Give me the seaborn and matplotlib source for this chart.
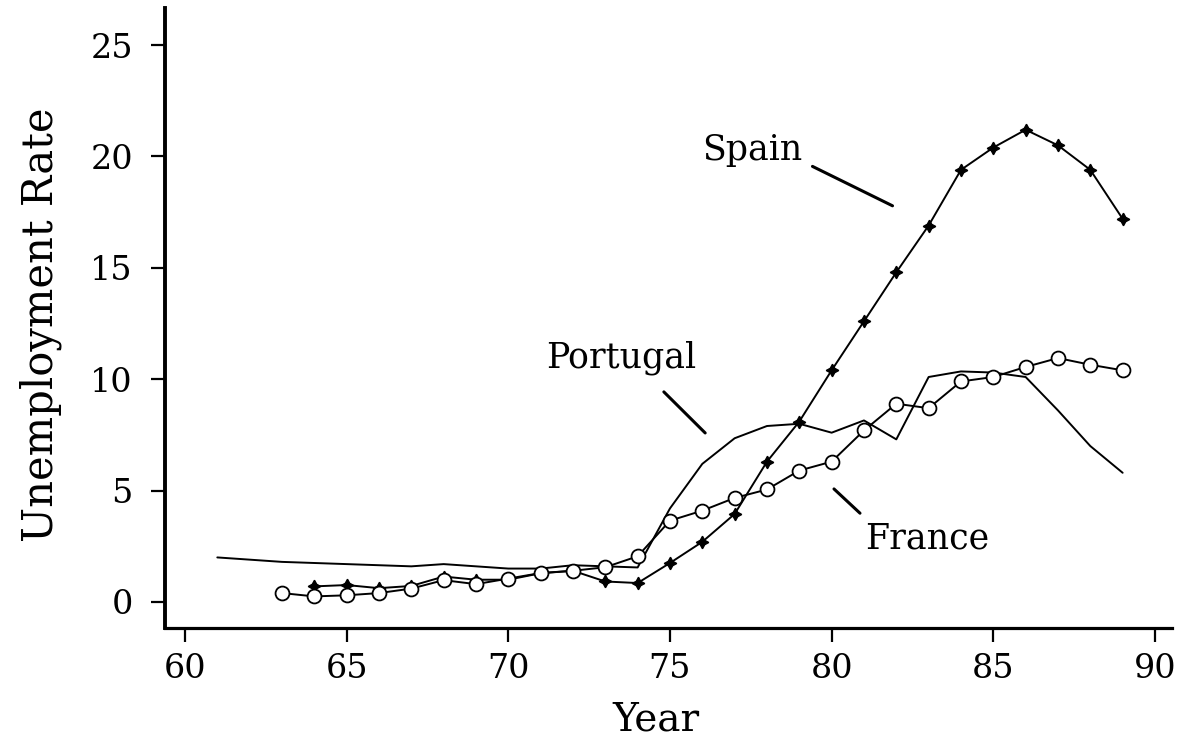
import matplotlib
matplotlib.use("Agg")
import matplotlib.pyplot as plt
import seaborn as sns
import pandas as pd

# data
portugal_years = list(range(61, 90))
portugal_rate = [2.0, 1.9, 1.8, 1.75, 1.7, 1.65, 1.6, 1.7, 1.6, 1.5, 1.5, 1.65, 1.6, 1.55,
                 4.2, 6.2, 7.35, 7.9, 8.0, 7.6, 8.15, 7.3, 10.1, 10.35, 10.3, 10.1,
                 8.6, 7.0, 5.8]

spain_years = list(range(64, 90))
spain_rate = [0.7, 0.76, 0.62, 0.72, 1.14, 1.0, 1.0, 1.29, 1.4, 0.92, 0.85, 1.75,
              2.7, 3.95, 6.3, 8.1, 10.4, 12.6, 14.8, 16.9, 19.4, 20.4, 21.2, 20.5,
              19.4, 17.2]

france_years = list(range(63, 90))
france_rate = [0.4, 0.25, 0.3, 0.4, 0.6, 0.98, 0.8, 1.05, 1.3, 1.4, 1.56, 2.05,
               3.65, 4.1, 4.67, 5.05, 5.9, 6.3, 7.7, 8.9, 8.7, 9.9, 10.1, 10.55,
               10.95, 10.65, 10.4]

df_pt = pd.DataFrame({"Year": portugal_years, "Rate": portugal_rate})
df_es = pd.DataFrame({"Year": spain_years, "Rate": spain_rate})
df_fr = pd.DataFrame({"Year": france_years, "Rate": france_rate})

sns.set_style("ticks")
plt.rcParams['font.family'] = ['DejaVu Serif']
plt.rcParams['text.color'] = 'black'
plt.rcParams['axes.labelcolor'] = 'black'

fig = plt.figure(figsize=(11.78, 7.38), dpi=100)
ax = fig.add_axes([0.140, 0.149, 0.855, 0.840])

sns.lineplot(data=df_pt, x="Year", y="Rate", ax=ax, color="black", lw=1.4)
sns.lineplot(data=df_es, x="Year", y="Rate", ax=ax, color="black", lw=1.4,
             marker=(4, 1, 0), markersize=9, markerfacecolor="black",
             markeredgecolor="black", markeredgewidth=1.0)
sns.lineplot(data=df_fr, x="Year", y="Rate", ax=ax, color="black", lw=1.4,
             marker="o", markersize=10, markerfacecolor="white",
             markeredgecolor="black", markeredgewidth=1.3)

ax.set_xlim(59.38, 90.53)
ax.set_ylim(-1.17, 26.66)
ax.set_xticks([60, 65, 70, 75, 80, 85, 90])
ax.set_yticks([0, 5, 10, 15, 20, 25])

for side in ["top", "right"]:
    ax.spines[side].set_visible(False)
ax.spines["left"].set_linewidth(2.8)
ax.spines["bottom"].set_linewidth(2.3)
ax.spines["left"].set_color("black")
ax.spines["bottom"].set_color("black")
ax.tick_params(axis="both", direction="out", length=10, width=1.6,
               labelsize=24, colors="black")
ax.tick_params(axis="y", pad=13)
ax.tick_params(axis="x", pad=8)

ax.set_xlabel("Year", fontsize=28)
ax.set_ylabel("Unemployment Rate", fontsize=30)
ax.xaxis.set_label_coords(0.4876, -0.119)
ax.yaxis.set_label_coords(-0.102, 0.489)

# labels with leader lines
ax.text(77.54, 20.29, "Spain", fontsize=25, ha="center", va="center")
ax.annotate("", xy=(81.96, 17.73), xytext=(79.33, 19.61),
            arrowprops=dict(arrowstyle="-", lw=2.2, color="black"))
ax.text(73.49, 10.95, "Portugal", fontsize=25, ha="center", va="center")
ax.annotate("", xy=(76.15, 7.5), xytext=(74.75, 9.52),
            arrowprops=dict(arrowstyle="-", lw=2.2, color="black"))
ax.text(82.95, 2.87, "France", fontsize=25, ha="center", va="center")
ax.annotate("", xy=(80.94, 3.9), xytext=(80.01, 5.16),
            arrowprops=dict(arrowstyle="-", lw=2.2, color="black"))

fig.savefig("out.png", dpi=100)
plt.close(fig)
